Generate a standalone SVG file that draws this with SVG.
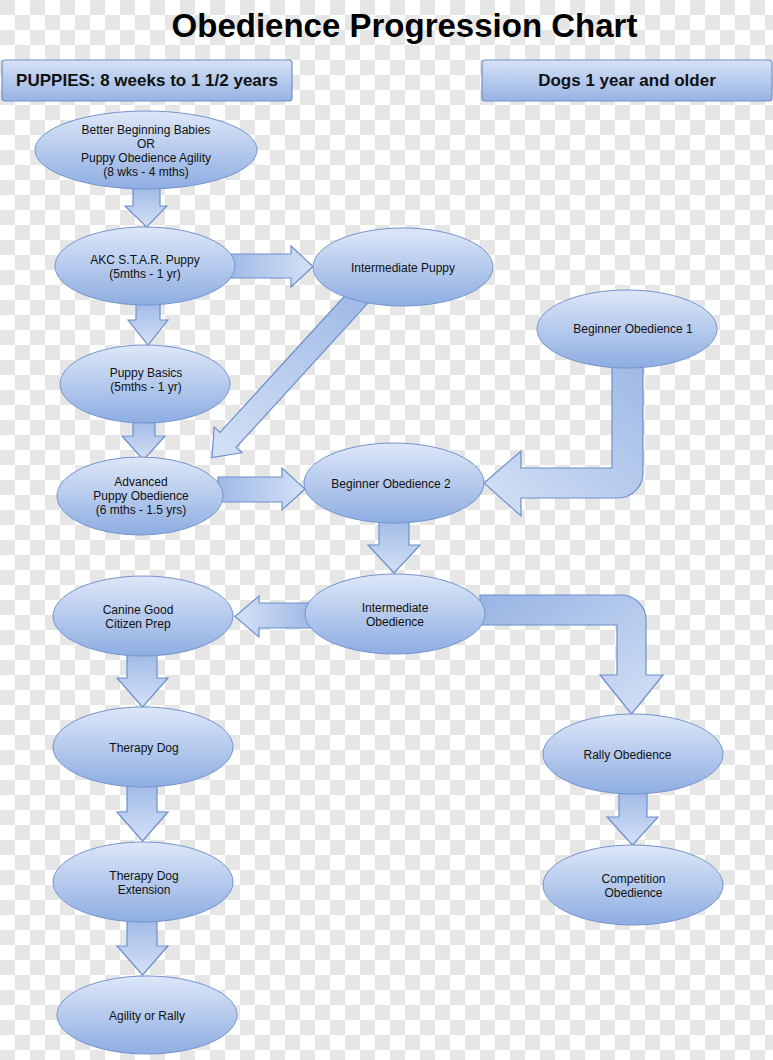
<svg xmlns="http://www.w3.org/2000/svg" width="773" height="1060" viewBox="0 0 773 1060">
<defs>
<pattern id="checker" width="30" height="30" patternUnits="userSpaceOnUse">
<rect width="30" height="30" fill="#ffffff"/>
<rect width="15" height="15" fill="#e6e6e6"/>
<rect x="15" y="15" width="15" height="15" fill="#e6e6e6"/>
</pattern>
<linearGradient id="gNode" x1="0" y1="0" x2="0" y2="1">
<stop offset="0" stop-color="#dde7f8"/>
<stop offset="1" stop-color="#8eade2"/>
</linearGradient>
<linearGradient id="gHead" x1="0" y1="0" x2="0" y2="1">
<stop offset="0" stop-color="#d6e2f6"/>
<stop offset="1" stop-color="#97b3e4"/>
</linearGradient>
<linearGradient id="gDown" x1="0" y1="0" x2="0" y2="1">
<stop offset="0" stop-color="#9fb9e6"/>
<stop offset="1" stop-color="#d4e1f6"/>
</linearGradient>
<linearGradient id="gRight" x1="0" y1="0" x2="1" y2="0">
<stop offset="0" stop-color="#9fb9e6"/>
<stop offset="1" stop-color="#d4e1f6"/>
</linearGradient>
<linearGradient id="gLeft" x1="1" y1="0" x2="0" y2="0">
<stop offset="0" stop-color="#9fb9e6"/>
<stop offset="1" stop-color="#d4e1f6"/>
</linearGradient>
<linearGradient id="gDownLeft" x1="1" y1="0" x2="0" y2="1">
<stop offset="0" stop-color="#9fb9e6"/>
<stop offset="1" stop-color="#d4e1f6"/>
</linearGradient>
<linearGradient id="gRightDown" x1="0" y1="0" x2="1" y2="1">
<stop offset="0" stop-color="#98b4e4"/>
<stop offset="1" stop-color="#d4e1f6"/>
</linearGradient>
</defs>
<style>
.node ellipse { fill: url(#gNode); stroke: #7394cf; stroke-width: 1; }
.node text, .head text { font-family: "Liberation Sans", Arial, sans-serif; fill: #111111; text-anchor: middle; }
.node text { font-size: 12px; }
.head rect { fill: url(#gHead); stroke: #6f8fc9; stroke-width: 1.2; }
.head text { font-size: 17px; font-weight: bold; }
.title { font-family: "Liberation Sans", Arial, sans-serif; font-size: 33px; font-weight: bold; fill: #000000; text-anchor: middle; }
#connectors path { stroke: #6d8fcb; stroke-width: 1.2; stroke-linejoin: miter; }
.down { fill: url(#gDown); }
.right { fill: url(#gRight); }
.left { fill: url(#gLeft); }
</style>
<rect width="773" height="1060" fill="url(#checker)"/>
<text class="title" x="404.5" y="37">Obedience Progression Chart</text>
<g id="header-puppies" class="head">
<rect x="2" y="60" width="290" height="41" rx="3"/>
<text x="147" y="86">PUPPIES: 8 weeks to 1 1/2 years</text>
</g>
<g id="header-dogs" class="head">
<rect x="482" y="60" width="290" height="41" rx="3"/>
<text x="627" y="86">Dogs 1 year and older</text>
</g>
<g id="connectors">
<path class="down" d="M133,186 L160,186 L160,206 L167,206 L146.5,227 L125,206 L133,206 Z"/>
<path class="down" d="M136,302 L160,302 L160,320 L168,320 L148,345 L128,320 L136,320 Z"/>
<path class="right" d="M228,254 L291,254 L291,246 L313,266.5 L291,287 L291,278 L228,278 Z"/>
<path class="down" d="M133,420 L155,420 L155,436 L165,436 L143.5,460 L122,436 L133,436 Z"/>
<path class="right" d="M218,477 L282,477 L282,468 L305,489 L282,510 L282,502 L218,502 Z"/>
<path class="right" transform="translate(365,290) rotate(132.4)" d="M0,-11 L203,-11 L203,-19 L227,0 L203,19 L203,11 L0,11 Z"/>
<path fill="url(#gDownLeft)" d="M612,362 L643,362 L643,473 A25,25 0 0 1 618,498 L521,498 L521,516 L484,483 L521,451 L521,468 L612,468 Z"/>
<path class="down" d="M379,518 L409,518 L409,545 L420,545 L394,573 L368,545 L379,545 Z"/>
<path class="left" d="M312,603 L259,603 L259,596 L235,616.5 L259,637 L259,628 L312,628 Z"/>
<path fill="url(#gRightDown)" d="M480,595 L621,595 A25,25 0 0 1 646,620 L646,675 L663,675 L631.5,714 L600,675 L617,675 L617,625 L480,625 Z"/>
<path class="down" d="M127,652 L157,652 L157,678 L168,678 L142.5,707 L117,678 L127,678 Z"/>
<path class="down" d="M127,783 L157,783 L157,812 L168,812 L142.5,841 L117,812 L127,812 Z"/>
<path class="down" d="M127,918 L157,918 L157,946 L168,946 L142.5,975 L117,946 L127,946 Z"/>
<path class="down" d="M619,790 L647,790 L647,817 L658,817 L632.5,845 L607,817 L619,817 Z"/>
</g>
<g id="node-bbb" class="node">
<ellipse cx="146" cy="150" rx="111" ry="39"/>
<text x="146" y="134">Better Beginning Babies</text>
<text x="146" y="148">OR</text>
<text x="146" y="162">Puppy Obedience Agility</text>
<text x="146" y="176">(8 wks - 4 mths)</text>
</g>
<g id="node-akc" class="node">
<ellipse cx="145" cy="266" rx="90" ry="39"/>
<text x="145" y="264">AKC S.T.A.R. Puppy</text>
<text x="145" y="278">(5mths - 1 yr)</text>
</g>
<g id="node-intermediate-puppy" class="node">
<ellipse cx="403" cy="267" rx="90" ry="39"/>
<text x="403" y="271.5">Intermediate Puppy</text>
</g>
<g id="node-puppy-basics" class="node">
<ellipse cx="145" cy="384" rx="85" ry="39"/>
<text x="146" y="377">Puppy Basics</text>
<text x="146" y="391">(5mths - 1 yr)</text>
</g>
<g id="node-advanced" class="node">
<ellipse cx="140" cy="496" rx="83" ry="39"/>
<text x="141" y="486">Advanced</text>
<text x="141" y="500">Puppy Obedience</text>
<text x="141" y="514">(6 mths - 1.5 yrs)</text>
</g>
<g id="node-beginner-2" class="node">
<ellipse cx="394" cy="483" rx="90" ry="40"/>
<text x="391" y="488">Beginner Obedience 2</text>
</g>
<g id="node-beginner-1" class="node">
<ellipse cx="627" cy="329" rx="90" ry="39"/>
<text x="633" y="333">Beginner Obedience 1</text>
</g>
<g id="node-intermediate-obedience" class="node">
<ellipse cx="395" cy="614" rx="90" ry="40"/>
<text x="395" y="611.5">Intermediate</text>
<text x="395" y="625.5">Obedience</text>
</g>
<g id="node-canine" class="node">
<ellipse cx="143" cy="616" rx="90" ry="40"/>
<text x="138" y="613.5">Canine Good</text>
<text x="138" y="627.5">Citizen Prep</text>
</g>
<g id="node-therapy" class="node">
<ellipse cx="143" cy="747" rx="90" ry="40"/>
<text x="144" y="751.5">Therapy Dog</text>
</g>
<g id="node-therapy-ext" class="node">
<ellipse cx="143" cy="882" rx="90" ry="40"/>
<text x="144" y="879.5">Therapy Dog</text>
<text x="144" y="893.5">Extension</text>
</g>
<g id="node-agility" class="node">
<ellipse cx="147" cy="1015" rx="90" ry="39"/>
<text x="147" y="1019.5">Agility or Rally</text>
</g>
<g id="node-rally" class="node">
<ellipse cx="633" cy="754" rx="90" ry="40"/>
<text x="627.5" y="758.5">Rally Obedience</text>
</g>
<g id="node-competition" class="node">
<ellipse cx="633" cy="885" rx="90" ry="40"/>
<text x="633.5" y="882.5">Competition</text>
<text x="633.5" y="896.5">Obedience</text>
</g>
</svg>
